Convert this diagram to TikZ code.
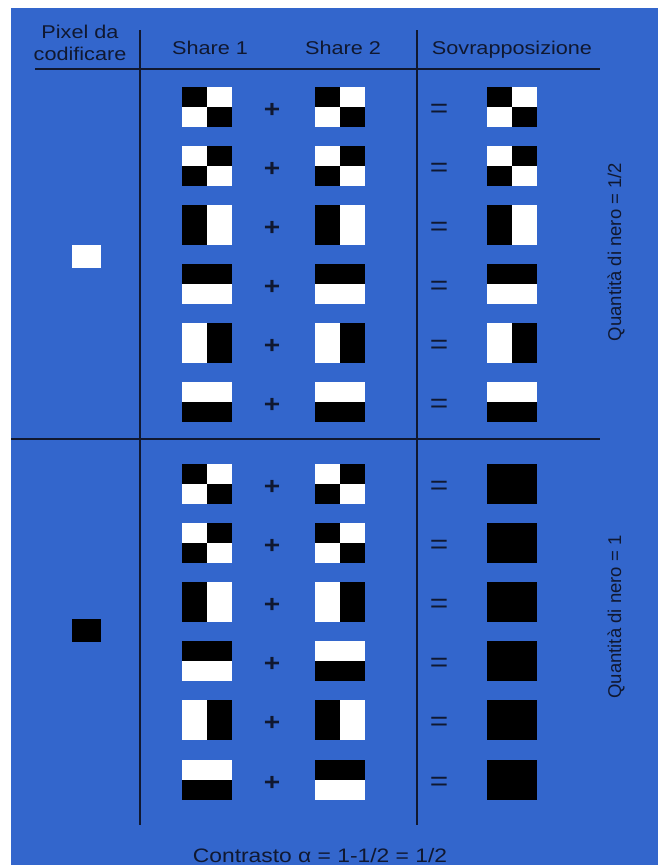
\documentclass[tikz,border=0pt]{standalone}
\usepackage{fontspec}
\setmainfont[FakeStretch=1.17]{Liberation Sans}
\newfontfamily\uprightfont{Liberation Sans}
\usetikzlibrary{positioning}
\definecolor{bgblue}{RGB}{51,102,204}
\definecolor{navy}{RGB}{16,24,48}
% one tile = 2x2 cells: tl, tr, bl, br
\newcommand{\cells}[5]{%
    \fill[#2] (#1.north west) rectangle (#1.center);
    \fill[#3] (#1.north) rectangle (#1.east);
    \fill[#4] (#1.west) rectangle (#1.south);
    \fill[#5] (#1.center) rectangle (#1.south east);}
\newcommand{\pdiag}[1]{\cells{#1}{black}{white}{white}{black}}
\newcommand{\panti}[1]{\cells{#1}{white}{black}{black}{white}}
\newcommand{\pleft}[1]{\cells{#1}{black}{white}{black}{white}}
\newcommand{\pright}[1]{\cells{#1}{white}{black}{white}{black}}
\newcommand{\ptop}[1]{\cells{#1}{black}{black}{white}{white}}
\newcommand{\pbot}[1]{\cells{#1}{white}{white}{black}{black}}
\newcommand{\pfull}[1]{\cells{#1}{black}{black}{black}{black}}

\begin{document}
\begin{tikzpicture}[x=1pt, y=-1pt,
    txt/.style={text=navy, font=\fontsize{18.5}{21}\selectfont, inner sep=0pt, anchor=base},
    tile/.style={minimum width=50pt, minimum height=40pt, inner sep=0pt, outer sep=0pt},
    pix/.style={minimum width=29pt, minimum height=23pt, inner sep=0pt},
    grid/.style={draw=navy, line width=1.6pt},
    plus/.style={text=navy, inner sep=0pt, font=\fontsize{24}{24}\selectfont\bfseries},
    eqsign/.style={text=navy, inner sep=0pt, font=\fontsize{27}{27}\selectfont}
]
    \useasboundingbox (0,0) rectangle (658,865);
    \fill[white] (0,0) rectangle (658,865);
    \fill[bgblue] (11,8) rectangle (658,865);

    % table rules
    \draw[grid] (140,30) -- (140,825);
    \draw[grid] (417,30) -- (417,825);
    \draw[grid] (35,69) -- (600,69);
    \draw[grid] (11,439) -- (600,439);

    % headers
    \node[txt] (hpix) at (80,38) {Pixel da};
    \node[txt] (hcod) at (80,60) {codificare};
    \node[txt] (hsa) at (210,54) {Share 1};
    \node[txt] (hsb) at (343,54) {Share 2};
    \node[txt] (hres) at (512,54) {Sovrapposizione};

    % pixel to encode
    \node[pix, fill=white] (pxw) at (86.5,256) {};
    \node[pix, fill=black] (pxb) at (86.5,630) {};

    % shares and overlay
    \foreach \i/\y/\pa/\pb/\pc in {1/107/pdiag/pdiag/pdiag, 2/166/panti/panti/panti,
        3/225/pleft/pleft/pleft, 4/284/ptop/ptop/ptop, 5/343/pright/pright/pright,
        6/402/pbot/pbot/pbot, 7/484/pdiag/panti/pfull, 8/543/panti/pdiag/pfull,
        9/602/pleft/pright/pfull, 10/661/ptop/pbot/pfull, 11/720/pright/pleft/pfull,
        12/780/pbot/ptop/pfull} {
        \node[tile] (sa-\i) at (207,\y) {};
        \node[tile] (sb-\i) at (340,\y) {};
        \node[tile] (res-\i) at (512,\y) {};
        \node[plus] (pl-\i) at (272,\y+3) {+};
        \node[eqsign] (eq-\i) at (439,\y+4) {=};
        \csname\pa\endcsname{sa-\i}
        \csname\pb\endcsname{sb-\i}
        \csname\pc\endcsname{res-\i}
    }

    % side notes
    \node[text=navy, font=\uprightfont\fontsize{18.5}{21}\selectfont, inner sep=0pt, rotate=90] (qa) at (616,252) {Quantità di nero = 1/2};
    \node[text=navy, font=\uprightfont\fontsize{18.5}{21}\selectfont, inner sep=0pt, rotate=90] (qb) at (616,617) {Quantità di nero = 1};

    \node[txt, font=\fontsize{19.5}{21}\selectfont] (contr) at (320,862) {Contrasto α = 1-1/2 = 1/2};
\end{tikzpicture}
\end{document}
